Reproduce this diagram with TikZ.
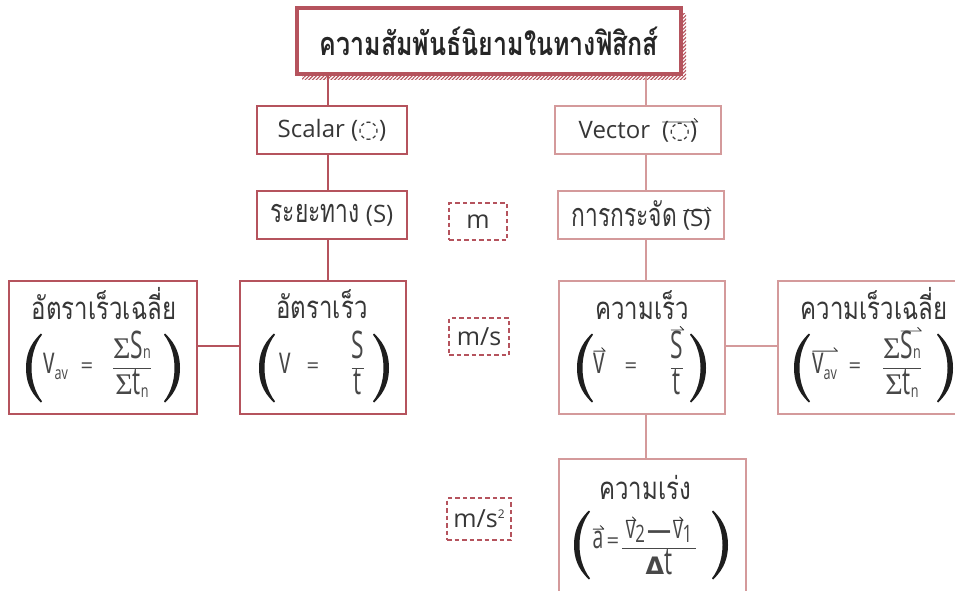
\documentclass[tikz,border=0pt]{standalone}
\usepackage{fontspec}
\usepackage{graphicx}
\setmainfont{Open Sans}
\newfontfamily\thai[Script=Thai]{Loma}
\newfontfamily\serifsym{Liberation Serif}
\newfontfamily\symf{DejaVu Sans}
\usetikzlibrary{patterns.meta,shadows}
\definecolor{dk}{RGB}{181,83,93}
\definecolor{lt}{RGB}{212,154,155}
\definecolor{txt}{RGB}{55,55,55}
\definecolor{ftxt}{RGB}{72,72,72}
\definecolor{par}{RGB}{30,30,30}
\newlength\vw
\newlength\vh
\newcommand{\vecover}[2][1.5pt]{\setbox0=\hbox{#2}\vw=\wd0 \vh=\ht0 \leavevmode\rlap{\raisebox{\dimexpr\vh+#1\relax}{\tikz[baseline=0pt]\draw[line width=0.9pt,txt,line cap=round,line join=round] (0pt,0pt) -- (\vw,0pt) -- ++(-3.5pt,3.5pt);}}\box0}
\newcommand{\lowidx}[2][3pt]{\raisebox{-#1}{\scalebox{0.7}[1]{\fontsize{18}{18}\selectfont #2}}}
\newcommand{\cn}[1]{\scalebox{0.6}[1]{\fontsize{38}{40}\selectfont #1}}
\newcommand{\cnsm}[1]{\scalebox{0.6}[1]{\fontsize{32}{34}\selectfont #1}}
\newcommand{\Sg}{{\serifsym\fontsize{30}{30}\selectfont Σ}}
\newcommand{\fr}[2]{\ensuremath{\displaystyle\frac{\hbox{#1}}{\hbox{#2}}}}
\newcommand{\myparen}{\fill[par] (15pt,69pt) .. controls (3pt,58pt) and (0pt,46pt) .. (0pt,34.5pt) .. controls (0pt,23pt) and (3pt,11pt) .. (15pt,0pt) -- (16pt,1.2pt) .. controls (8.5pt,11pt) and (5.5pt,23pt) .. (5.5pt,34.5pt) .. controls (5.5pt,46pt) and (8.5pt,58pt) .. (16pt,67.8pt) -- cycle;}
\newcommand{\bigL}{\tikz{\myparen}}
\newcommand{\bigR}{\tikz[xscale=-1]{\myparen}}
\newcommand{\thv}[1]{\scalebox{0.95}[1.35]{\thai #1}}
\newcommand{\thw}[1]{\scalebox{1}[1.3]{#1}}
\tikzset{
  dkbox/.style={draw=dk, line width=2.5pt, fill=white, inner sep=0pt, text=txt, font=\fontsize{24}{28}\selectfont},
  ltbox/.style={draw=lt, line width=2.5pt, fill=white, inner sep=0pt, text=txt, font=\fontsize{24}{28}\selectfont},
  titlebox/.style={draw=dk, line width=3.5pt, fill=white, inner sep=0pt, text=black!85,
    font=\thai\bfseries\fontsize{25}{28}\selectfont,
    general shadow={shadow xshift=5pt, shadow yshift=-6pt, pattern={Lines[angle=45,distance=2.6pt,line width=1.1pt]}, pattern color=dk}},
  unitbox/.style={draw=dk, line width=1.6pt, dash pattern=on 4.5pt off 3pt, inner sep=0pt, text=txt, font=\fontsize{25}{28}\selectfont},
  dkline/.style={draw=dk, line width=2.5pt},
  ltline/.style={draw=lt, line width=2.5pt},
  thlab/.style={inner sep=0pt, text=txt, font=\thai\fontsize{24}{26}\selectfont},
  fm/.style={inner sep=0pt, text=ftxt, font=\fontsize{22}{26}\selectfont},
  paren/.style={inner sep=0pt},
}
\begin{document}
\begin{tikzpicture}[x=1pt,y=-1pt]
\useasboundingbox (0,0) rectangle (955,591);
\fill[white] (0,0) rectangle (955,591);
\coordinate (lx) at (328,0);
\coordinate (rx) at (646,0);
\coordinate (hy) at (0,346);

% title
\node[titlebox, minimum width=384, minimum height=66] (title) at (489,41) {\thw{ความสัมพันธ์นิยามในทางฟิสิกส์}};

% left column
\node[dkbox, minimum width=150, minimum height=48] (scalar) at (332,130) {Scalar ({\symf ◌})};
\node[dkbox, minimum width=150, minimum height=48] (dist) at (332,215) {\thv{ระยะทาง} (S)};
\node[dkbox, minimum width=188, minimum height=133] (avs) at (103,347.5) {};
\node[dkbox, minimum width=166, minimum height=133] (spd) at (323,347.5) {};

% right column
\node[ltbox, minimum width=166, minimum height=48] (vector) at (638,130) {Vector\enspace\vecover[-1pt]{({\symf ◌})}};
\node[ltbox, minimum width=166, minimum height=48] (disp) at (641,215) {\thv{การกระจัด} \vecover[-2pt]{(S)}};
\node[ltbox, minimum width=166, minimum height=133] (vel) at (642,347.5) {};
\node[ltbox, minimum width=198, minimum height=133] (avv) at (877,347.5) {};
\node[ltbox, minimum width=187, minimum height=160] (acc) at (652.5,539) {};

% unit boxes
\node[unitbox, minimum width=58, minimum height=37] (u1) at (478,221.5) {m};
\node[unitbox, minimum width=60, minimum height=37] (u2) at (479,336.5) {m/s};
\node[unitbox, minimum width=64, minimum height=42] (u3) at (479,519) {m/s\raisebox{9pt}{\fontsize{12}{12}\selectfont 2}};

% connectors
\draw[dkline] (title.south -| lx) -- (scalar.north -| lx);
\draw[dkline] (scalar.south -| lx) -- (dist.north -| lx);
\draw[dkline] (dist.south -| lx) -- (spd.north -| lx);
\draw[dkline] (avs.east |- hy) -- (spd.west |- hy);
\draw[ltline] (title.south -| rx) -- (vector.north -| rx);
\draw[ltline] (vector.south -| rx) -- (disp.north -| rx);
\draw[ltline] (disp.south -| rx) -- (vel.north -| rx);
\draw[ltline] (vel.east |- hy) -- (avv.west |- hy);
\draw[ltline] (vel.south -| rx) -- (acc.north -| rx);

% average speed
\node[thlab] (avsT) at (104,304) {\thw{อัตราเร็วเฉลี่ย}};
\node[paren] (avsL) at (34,368) {\bigL};
\node[fm, anchor=base west] (avsV) at (43,373) {\cn{v}\lowidx[6pt]{av}};
\node[fm, anchor=base] (avsE) at (87,373) {=};
\node[fm, anchor=base] (avsF) at (132,373) {\fr{\Sg\cn{S}\lowidx[0pt]{n}}{\Sg\cn{t}\lowidx{n}}};
\node[paren] (avsR) at (172,368) {\bigR};

% speed
\node[thlab] (spdT) at (322,304) {\thw{อัตราเร็ว}};
\node[paren] (spdL) at (267,368) {\bigL};
\node[fm, anchor=base] (spdV) at (285,373) {\cn{v}};
\node[fm, anchor=base] (spdE) at (313,373) {=};
\node[fm, anchor=base] (spdF) at (358,373) {\fr{\cn{S}}{\cn{t}}};
\node[paren] (spdR) at (381,368) {\bigR};

% velocity
\node[thlab] (velT) at (642,305) {\thw{ความเร็ว}};
\node[paren] (velL) at (585,368) {\bigL};
\node[fm, anchor=base] (velV) at (599,373) {\vecover{\cn{v}}};
\node[fm, anchor=base] (velE) at (631,373) {=};
\node[fm, anchor=base] (velF) at (677,373) {\fr{\vecover{\cn{S}}}{\cn{t}}};
\node[paren] (velR) at (698,368) {\bigR};

% average velocity
\node[thlab] (avvT) at (874,304) {\thw{ความเร็วเฉลี่ย}};
\node[paren] (avvL) at (802,368) {\bigL};
\node[fm, anchor=base west] (avvV) at (812,373) {\vecover{\cn{v}\lowidx[6pt]{av}}};
\node[fm, anchor=base] (avvE) at (855,373) {=};
\node[fm, anchor=base] (avvF) at (902,373) {\fr{\Sg\vecover[0.5pt]{\cn{S}\lowidx[0pt]{n}}}{\Sg\cn{t}\lowidx{n}}};
\node[paren] (avvR) at (945,368) {\bigR};

% acceleration
\node[thlab] (accT) at (645,487) {\thw{ความเร่ง}};
\node[paren] (accL) at (582,545) {\bigL};
\node[fm, anchor=base] (accA) at (598,548) {\vecover{\cnsm{a}}};
\node[fm, anchor=base] (accE) at (613,548) {=};
\node[fm, anchor=base] (accF) at (659,553) {\fr{\hspace{4pt}\vecover{\cnsm{v}}\lowidx[4pt]{\fontsize{24}{24}\selectfont 2}\hspace{2pt}{\fontsize{24}{24}\selectfont\bfseries —}\hspace{2pt}\vecover{\cnsm{v}}\lowidx[4pt]{\fontsize{24}{24}\selectfont 1}\hspace{4pt}}{{\symf\bfseries\fontsize{24}{24}\selectfont Δ}\cn{t}}};
\node[paren] (accR) at (720,545) {\bigR};
\end{tikzpicture}
\end{document}
